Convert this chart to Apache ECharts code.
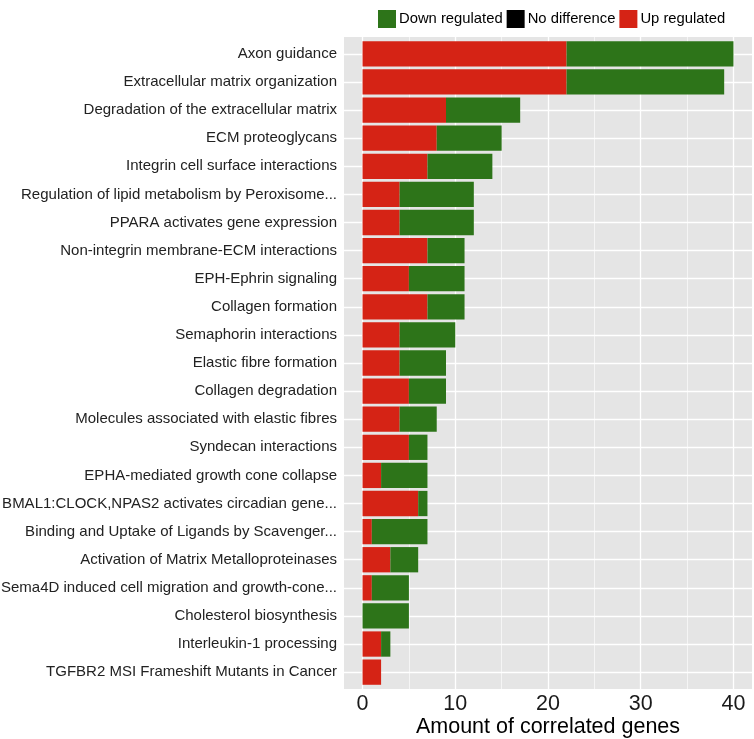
<!DOCTYPE html>
<html><head><meta charset="utf-8">
<script src="https://cdn.jsdelivr.net/npm/echarts@6/dist/echarts.min.js"></script>
<style>html,body{margin:0;padding:0;background:#fff}#c{width:754px;height:739px}</style>
</head><body><div id="c"></div>
<script>
const categories = [
  "Axon guidance",
  "Extracellular matrix organization",
  "Degradation of the extracellular matrix",
  "ECM proteoglycans",
  "Integrin cell surface interactions",
  "Regulation of lipid metabolism by Peroxisome...",
  "PPARA activates gene expression",
  "Non-integrin membrane-ECM interactions",
  "EPH-Ephrin signaling",
  "Collagen formation",
  "Semaphorin interactions",
  "Elastic fibre formation",
  "Collagen degradation",
  "Molecules associated with elastic fibres",
  "Syndecan interactions",
  "EPHA-mediated growth cone collapse",
  "BMAL1:CLOCK,NPAS2 activates circadian gene...",
  "Binding and Uptake of Ligands by Scavenger...",
  "Activation of Matrix Metalloproteinases",
  "Sema4D induced cell migration and growth-cone...",
  "Cholesterol biosynthesis",
  "Interleukin-1 processing",
  "TGFBR2 MSI Frameshift Mutants in Cancer"
];
const upRegulated   = [22,22,9,8,7,4,4,7,5,7,4,4,5,4,5,2,6,1,3,1,0,2,2];
const downRegulated = [18,17,8,7,7,8,8,4,6,4,6,5,4,4,2,5,1,6,3,4,5,1,0];
const noDifference  = [0,0,0,0,0,0,0,0,0,0,0,0,0,0,0,0,0,0,0,0,0,0,0];
const xTicks = [0,10,20,30,40];
const xMinor = [5,15,25,35];

const FONT = "Liberation Sans, Arial, sans-serif";
const chart = echarts.init(document.getElementById('c'), null, {renderer:'canvas'});

// panel geometry (ggplot-like expansion: 0.6 category units each side)
const EXP = 0.6;
const panelTop = 37, panelBottom = 50, panelLeft = 344, panelRight = 2;
const panelH = 739 - panelTop - panelBottom;
const band = panelH / (categories.length - 1 + 2 * EXP);
const pad = band * (EXP - 0.5);

const gridLines = [];
xTicks.forEach(v => gridLines.push({xAxis: v, lineStyle:{color:'#fff', width:1.3, type:'solid'}}));
xMinor.forEach(v => gridLines.push({xAxis: v, lineStyle:{color:'#fff', width:0.6, type:'solid'}}));
categories.forEach((c, i) => gridLines.push({yAxis: i, lineStyle:{color:'#fff', width:1.3, type:'solid'}}));

chart.setOption({
  animation: false,
  textStyle: {fontFamily: FONT},
  legend: {
    data: ['Down regulated','No difference','Up regulated'],
    left: 378, top: 10, padding: 0, itemGap: 4,
    itemWidth: 18, itemHeight: 18, icon: 'rect',
    textStyle: {fontSize: 14.8, color: '#000', fontFamily: FONT, padding:[0,0,0,-2]}
  },
  grid: [
    {left: panelLeft, right: panelRight, top: panelTop + pad, bottom: panelBottom + pad,
     outerBoundsMode: 'none', containLabel: false, show: false},
    {left: panelLeft, right: panelRight, top: panelTop, bottom: panelBottom,
     outerBoundsMode: 'none', containLabel: false, show: true, backgroundColor: '#E5E5E5', borderWidth: 0}
  ],
  xAxis: [
    {gridIndex: 0, type: 'value', min: -2, max: 42, show: false},
    {gridIndex: 1, type: 'value', min: -2, max: 42,
     name: 'Amount of correlated genes', nameLocation: 'middle', nameGap: 27, nameMoveOverlap: false,
     nameTextStyle: {fontSize: 21.5, color: '#000', fontFamily: FONT},
     axisLine: {show: false},
     axisTick: {show: true, length: 4, lineStyle:{color:'#333'}, customValues: xTicks},
     axisLabel: {fontSize: 21.5, color: '#1a1a1a', margin: 4, customValues: xTicks, fontFamily: FONT},
     splitLine: {show: false}}
  ],
  yAxis: [
    {gridIndex: 0, type: 'category', data: categories, inverse: true,
     axisLine: {show: false},
     axisTick: {show: true, length: 4, alignWithLabel: true, lineStyle:{color:'#333'}},
     axisLabel: {fontSize: 15, color: '#222', margin: 7, fontFamily: FONT},
     splitLine: {show: false}},
    {gridIndex: 1, type: 'value', min: -EXP, max: categories.length - 1 + EXP, inverse: true, show: false}
  ],
  series: [
    {name:'Grid', type:'line', xAxisIndex: 1, yAxisIndex: 1, data: [], silent: true, z: 1,
     markLine: {silent: true, symbol: 'none', label: {show:false}, z: 1, data: gridLines}},
    {name:'Up regulated', type:'bar', stack:'a', barWidth:'90%', data: upRegulated, itemStyle:{color:'#D52315'}, z: 3},
    {name:'Down regulated', type:'bar', stack:'a', barWidth:'90%', data: downRegulated, itemStyle:{color:'#2D7419'}, z: 3},
    {name:'No difference', type:'bar', stack:'a', barWidth:'90%', data: noDifference, itemStyle:{color:'#000000'}, z: 3}
  ]
});
</script></body></html>
